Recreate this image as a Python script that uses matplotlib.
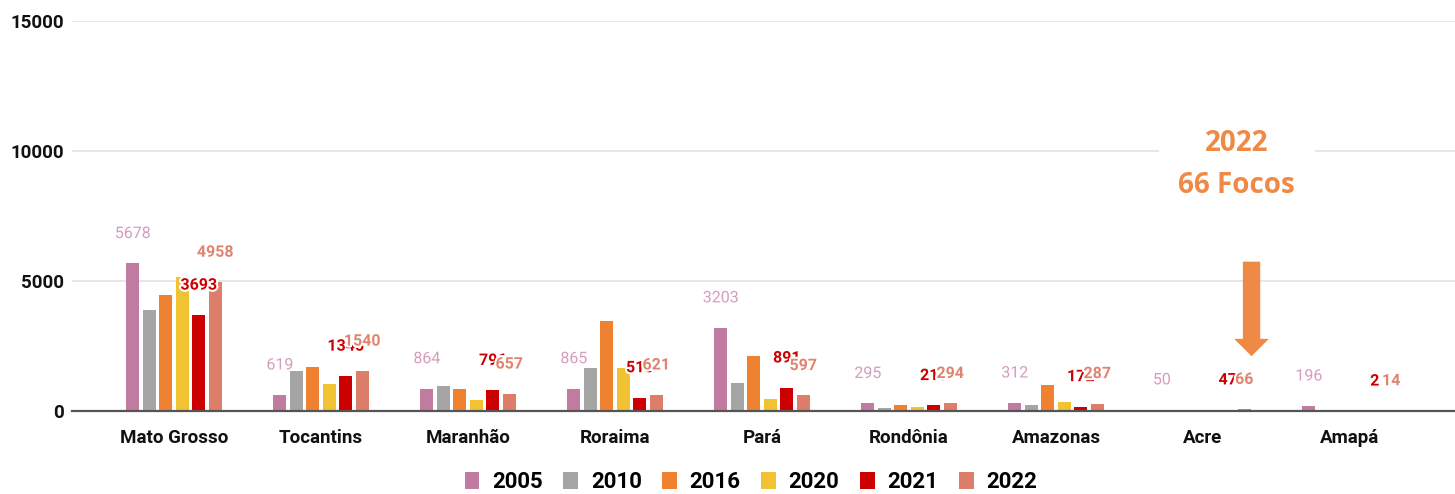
#!/usr/bin/env python3
"""Focos de queimadas por estado (Amazônia Legal), anos selecionados."""
import matplotlib
matplotlib.use("Agg")
import matplotlib.pyplot as plt
import matplotlib.patheffects as pe
import numpy as np
from matplotlib.patches import Patch

plt.rcParams["font.family"] = ["Roboto", "DejaVu Sans"]

STATES = ["Mato Grosso", "Tocantins", "Maranhão", "Roraima", "Pará",
          "Rondônia", "Amazonas", "Acre", "Amapá"]
YEARS = ["2005", "2010", "2016", "2020", "2021", "2022"]

V2005 = [5678, 619, 864, 865, 3203, 295, 312, 50, 196]
V2010 = [3900, 1530, 960, 1650, 1080, 130, 250, 20, 12]
V2016 = [4450, 1690, 850, 3460, 2120, 240, 1000, 30, 18]
V2020 = [5150, 1040, 420, 1650, 470, 170, 350, 25, 15]
V2021 = [3693, 1345, 796, 515, 891, 213, 172, 47, 2]
V2022 = [4958, 1540, 657, 621, 597, 294, 287, 66, 14]
SERIES = [V2005, V2010, V2016, V2020, V2021, V2022]

COLORS = ["#C27BA0", "#A5A5A5", "#EF8230", "#F1C232", "#CC0000", "#DD7E6B"]
# which series get value labels, and how they look
LABELLED = {0: ("#D69CBC", "normal"), 4: ("#CC0000", "bold"), 5: ("#E08470", "bold")}

ANNOT_COLOR = "#EE8A45"

fig = plt.figure(figsize=(14.55, 4.94), dpi=100)
ax = fig.add_axes([72 / 1455, 83 / 494, 1383 / 1455, 390 / 494])

xs = np.arange(len(STATES))
step = 0.112
width = 0.088
for j, vals in enumerate(SERIES):
    pos = xs + (j - 2.5) * step
    ax.bar(pos, vals, width=width, color=COLORS[j], zorder=3)
    if j in LABELLED:
        col, wt = LABELLED[j]
        for x, v in zip(pos, vals):
            ax.annotate(f"{v}", (x, v), xytext=(0, 21.5), textcoords="offset points",
                        ha="center", va="center", fontsize=11.5, color=col,
                        fontweight=wt, zorder=5 + j,
                        path_effects=[pe.withStroke(linewidth=3, foreground="white")])

ax.set_ylim(0, 15000)
ax.set_xlim(-0.694, 8.714)
ax.set_yticks([0, 5000, 10000, 15000])
ax.set_yticklabels(["0", "5000", "10000", "15000"], fontsize=13.5, fontweight="bold")
ax.set_xticks(xs)
ax.set_xticklabels(STATES, fontsize=13.5, fontweight="bold")
ax.tick_params(axis="both", length=0, colors="#111111")
ax.tick_params(axis="x", pad=13)
ax.tick_params(axis="y", pad=6)
ax.grid(axis="y", color="#E3E3E3", lw=1.2, zorder=0)
ax.set_axisbelow(True)
for s in ["top", "right", "left"]:
    ax.spines[s].set_visible(False)
ax.spines["bottom"].set_color("#555555")
ax.spines["bottom"].set_linewidth(1.6)
ax.spines["bottom"].set_zorder(4)

# Acre 2022 callout
acre_x = 7 + 2.5 * step + 0.05
ax.annotate("", xy=(acre_x, 2000), xytext=(acre_x, 5850),
            arrowprops=dict(arrowstyle="simple,head_length=1.0,head_width=2.0,tail_width=1.0",
                            color=ANNOT_COLOR, lw=0, mutation_scale=12.5),
            zorder=6)
ax.text(7.23, 9480, "2022\n66 Focos", ha="center", va="center", fontsize=20,
        fontweight="bold", color=ANNOT_COLOR, family=["Open Sans", "DejaVu Sans"],
        linespacing=1.6, zorder=6,
        bbox=dict(facecolor="white", edgecolor="none", pad=14))

handles = [Patch(facecolor=c, edgecolor="none", label=y) for c, y in zip(COLORS, YEARS)]
leg = fig.legend(handles=handles, loc="center", bbox_to_anchor=(751 / 1455, 1 - 482 / 494),
                 ncol=6, frameon=False, handlelength=0.66, handleheight=0.8,
                 handletextpad=0.58, columnspacing=0.92,
                 prop=dict(size=16, weight="bold"))

fig.savefig("out.png", dpi=100)
